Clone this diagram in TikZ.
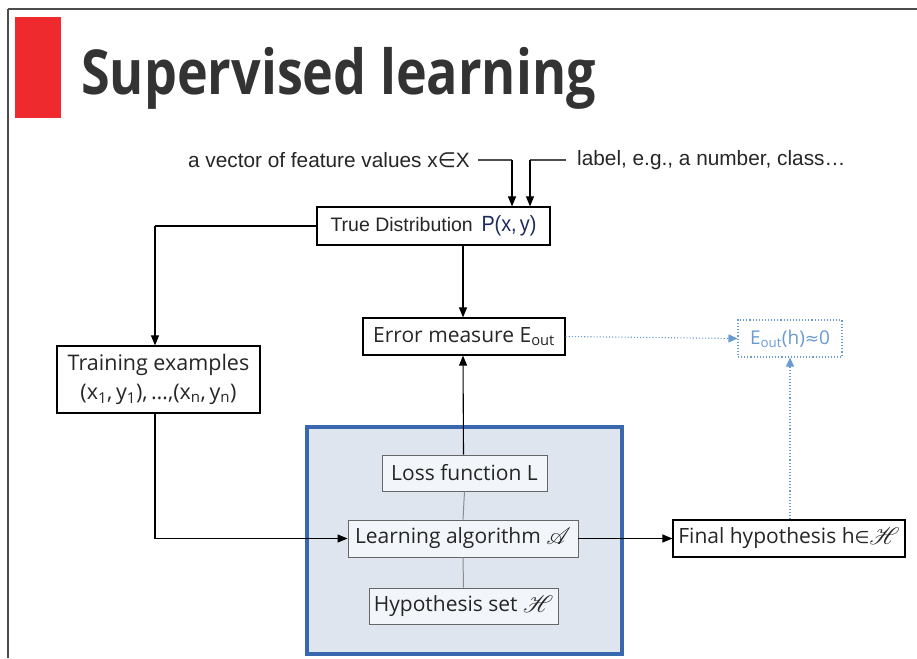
\documentclass[tikz,border=0pt]{standalone}
\usepackage{fontspec}
\usepackage{mathrsfs}
\usepackage{graphicx}
\setmainfont{Open Sans}
\newfontfamily\arial{Liberation Sans}
\newfontfamily\djv{DejaVu Sans}
\usetikzlibrary{arrows.meta}
\definecolor{titlegray}{HTML}{333333}
\definecolor{redbar}{HTML}{EE2A2E}
\definecolor{boxfill}{HTML}{DFE5EF}
\definecolor{boxblue}{HTML}{3A68AE}
\definecolor{lightblue}{HTML}{6A9AD2}
\definecolor{navy}{HTML}{1C2A5C}
\newcommand{\scr}[1]{\raisebox{-1pt}{\scalebox{1.15}{$\mathscr{#1}$}}}
\tikzset{
  nbox/.style={draw=black, line width=1.2pt, fill=white, inner sep=0pt, font=\fontsize{21}{25}\selectfont, text=black!85},
  ibox/.style={draw=black!60, line width=0.9pt, fill=boxfill!40, inner sep=0pt, font=\fontsize{21}{25}\selectfont, text=black!85},
  arr/.style={line width=1.1pt, -{Triangle[length=10pt,width=8pt]}},
  plain/.style={line width=1.1pt},
  dotarr/.style={lightblue, line width=1.1pt, dotted, -{Triangle[length=9pt,width=8pt]}},
  lbl/.style={inner sep=0pt, font=\arial\fontsize{20.8}{24}\selectfont, text=black!85}
}
\begin{document}
\begin{tikzpicture}[x=1pt,y=-1pt]
\useasboundingbox (0,0) rectangle (917,658);
% frame
\draw[black!70, line width=1.5pt] (8,9) -- (917,9);
\draw[black!70, line width=1.5pt] (8,9) -- (8,658);
% red bar
\fill[redbar] (15,17) rectangle (61,118);
\node[anchor=base west, inner sep=0pt, text=titlegray, font=\bfseries\fontsize{62}{70}\selectfont] (title) at (81,95) {\scalebox{0.84}[1]{Supervised learning}};
% top labels
\node[lbl, anchor=east] (feat) at (470,160) {a vector of feature values x{\djv∈}X};
\node[lbl, anchor=west] (lab) at (577,160) {label, e.g., a number, class…};
% nodes
\node[nbox, minimum width=233pt, minimum height=38pt] (true) at (433.5,226)
  {\arial\fontsize{19.5}{22}\selectfont True Distribution\ \,{\fontsize{22}{24}\selectfont\color{navy}\scalebox{0.9}[1]{P(x,\,y)}}};
\node[nbox, minimum width=203pt, minimum height=67pt, align=center, font=\fontsize{21.5}{29}\selectfont] (train) at (158.5,379.5)
  {Training examples\\(x\textsubscript{1},\,y\textsubscript{1}),\,…,(x\textsubscript{n},\,y\textsubscript{n})};
\node[nbox, minimum width=202pt, minimum height=37pt] (err) at (464,336.5) {Error measure E\textsubscript{out}};
\node[draw=lightblue, dotted, line width=1.1pt, minimum width=104pt, minimum height=37pt, inner sep=0pt, text=lightblue, font=\fontsize{19}{23}\selectfont] (eout) at (790,338.5)
  {E\textsubscript{out}(h){\djv\fontsize{17}{20}\selectfont≈}0};
% big box
\draw[boxblue, fill=boxfill, line width=3.2pt] (307,427) rectangle (622,654);
\node[ibox, minimum width=165pt, minimum height=36pt] (loss) at (464.5,473) {Loss function L};
\node[ibox, minimum width=230pt, minimum height=37pt] (learn) at (463,538.5) {Learning algorithm \scr{A}};
\node[ibox, minimum width=189pt, minimum height=36pt] (hyp) at (463.5,606) {Hypothesis set \scr{H}};
\node[nbox, minimum width=232pt, minimum height=37pt] (final) at (789,538.5) {Final hypothesis h{\djv\fontsize{17}{20}\selectfont∈}\scr{H}};
% inner gray links
\draw[black!45, line width=1pt] (loss.south) -- (learn.north);
\draw[black!45, line width=1pt] (learn.south) -- (hyp.north);
% connectors
\coordinate (fa) at (512,160);
\coordinate (la) at (530,160);
\draw[plain, black!70] ([xshift=8pt]feat.east) -- (fa);
\draw[arr] (fa) -- (fa |- true.north);
\draw[plain, black!70] ([xshift=-11pt]lab.west) -- (la);
\draw[arr] (la) -- (la |- true.north);
\coordinate (tl) at (155,226);
\draw[plain] (true.west) -- (tl);
\draw[arr] (tl) -- (tl |- train.north);
\draw[arr] (true.south -| err.north) ++(-1,0) -- ([xshift=-1pt]err.north);
\draw[arr] ([xshift=-1pt]loss.north) -- ([xshift=-1pt]err.south);
\coordinate (tb) at (155,538.5);
\draw[plain] (train.south -| tb) -- (tb);
\draw[arr] (tb) -- (learn.west);
\draw[arr] (learn.east) -- (final.west);
\draw[dotarr] (err.east) -- (eout.west);
\draw[dotarr] (final.north -| eout.south) -- (eout.south);
\end{tikzpicture}
\end{document}
